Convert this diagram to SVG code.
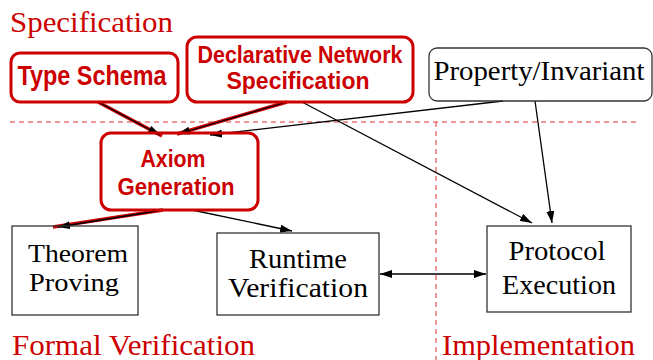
<svg xmlns="http://www.w3.org/2000/svg" width="653" height="360" viewBox="0 0 653 360">
<style>
.red{fill:none;stroke:#cc0000;stroke-width:3}
.blk{fill:none;stroke:#333;stroke-width:1.3}
.rl{stroke:#cc0000;stroke-width:3.5;fill:none}
.bl{stroke:#000;stroke-width:1.3;fill:none}
.dash{stroke:#e03030;stroke-width:1;stroke-dasharray:5,4;fill:none}
.st{font-family:'Liberation Sans',Arial,sans-serif;font-weight:bold;fill:#cc0000;text-anchor:middle}
.sr{fill:#000;text-anchor:middle}
.lab{fill:#cc0000;font-size:30px}
</style>
<defs>
<marker id="ah" markerUnits="userSpaceOnUse" markerWidth="12" markerHeight="8" refX="12" refY="4" orient="auto">
<path d="M0,0 L12,4 L0,8 Z" fill="#000"/>
</marker>
<marker id="as" markerUnits="userSpaceOnUse" markerWidth="12" markerHeight="8" refX="0" refY="4" orient="auto">
<path d="M12,0 L0,4 L12,8 Z" fill="#000"/>
</marker>
</defs>
<rect width="653" height="360" fill="#fff"/>
<g id="regions" font-family="Liberation Serif, DejaVu Serif, Times New Roman, serif">
<line class="dash" x1="10" y1="122" x2="640" y2="122"/>
<line class="dash" x1="436" y1="122" x2="436" y2="360"/>
<text class="lab" x="10" y="32" textLength="163" lengthAdjust="spacingAndGlyphs">Specification</text>
<text class="lab" x="12" y="355" textLength="243" lengthAdjust="spacingAndGlyphs">Formal Verification</text>
<text class="lab" x="442" y="355" textLength="193" lengthAdjust="spacingAndGlyphs">Implementation</text>
</g>
<g id="connectors">
<line class="rl" x1="98" y1="102" x2="162" y2="136"/>
<line class="rl" x1="287" y1="102" x2="177" y2="134"/>
<line class="rl" x1="163" y1="210" x2="53" y2="227"/>
<line class="bl" x1="98" y1="102" x2="160" y2="135" stroke="none" marker-end="url(#ah)"/>
<line class="bl" x1="287" y1="102" x2="178" y2="134" stroke="none" marker-end="url(#ah)"/>
<line class="bl" x1="163" y1="210" x2="58" y2="227" stroke="none" marker-end="url(#ah)"/>
<line class="bl" x1="503" y1="101" x2="210" y2="135" marker-end="url(#ah)"/>
<line class="bl" x1="302" y1="102" x2="532" y2="223" marker-end="url(#ah)"/>
<line class="bl" x1="535" y1="101" x2="552" y2="223" marker-end="url(#ah)"/>
<line class="bl" x1="192" y1="210" x2="292" y2="231" marker-end="url(#ah)"/>
<line class="bl" x1="380" y1="274" x2="486" y2="274" marker-start="url(#as)" marker-end="url(#ah)"/>
</g>
<g id="type-schema">
<rect class="red" x="11" y="53" width="167" height="49" rx="9"/>
<text class="st" x="92" y="85" font-size="27" textLength="149" lengthAdjust="spacingAndGlyphs">Type Schema</text>
</g>
<g id="declarative">
<rect class="red" x="187" y="37" width="226" height="65" rx="10"/>
<text class="st" x="300" y="63" font-size="24" textLength="205" lengthAdjust="spacingAndGlyphs">Declarative Network</text>
<text class="st" x="298" y="89" font-size="24" textLength="143" lengthAdjust="spacingAndGlyphs">Specification</text>
</g>
<g id="property" font-family="Liberation Serif, DejaVu Serif, Times New Roman, serif">
<rect class="blk" x="429" y="48" width="223" height="53" rx="8"/>
<text class="sr" x="539" y="80" font-size="28" textLength="211" lengthAdjust="spacingAndGlyphs">Property/Invariant</text>
</g>
<g id="axiom">
<rect class="red" x="101" y="133" width="157" height="77" rx="10"/>
<text class="st" x="173" y="167" font-size="24" textLength="65" lengthAdjust="spacingAndGlyphs">Axiom</text>
<text class="st" x="176" y="195" font-size="24" textLength="117" lengthAdjust="spacingAndGlyphs">Generation</text>
</g>
<g id="theorem" font-family="Liberation Serif, DejaVu Serif, Times New Roman, serif">
<rect class="blk" x="12" y="226" width="126" height="89"/>
<text class="sr" x="78" y="262" font-size="26" textLength="100" lengthAdjust="spacingAndGlyphs">Theorem</text>
<text class="sr" x="74" y="291" font-size="26" textLength="90" lengthAdjust="spacingAndGlyphs">Proving</text>
</g>
<g id="runtime" font-family="Liberation Serif, DejaVu Serif, Times New Roman, serif">
<rect class="blk" x="217" y="233" width="162" height="82"/>
<text class="sr" x="298" y="268" font-size="27" textLength="98" lengthAdjust="spacingAndGlyphs">Runtime</text>
<text class="sr" x="298" y="297" font-size="27" textLength="140" lengthAdjust="spacingAndGlyphs">Verification</text>
</g>
<g id="protocol" font-family="Liberation Serif, DejaVu Serif, Times New Roman, serif">
<rect class="blk" x="487" y="226" width="144" height="86"/>
<text class="sr" x="557" y="260" font-size="27" textLength="97" lengthAdjust="spacingAndGlyphs">Protocol</text>
<text class="sr" x="559" y="294" font-size="27" textLength="114" lengthAdjust="spacingAndGlyphs">Execution</text>
</g>
</svg>
